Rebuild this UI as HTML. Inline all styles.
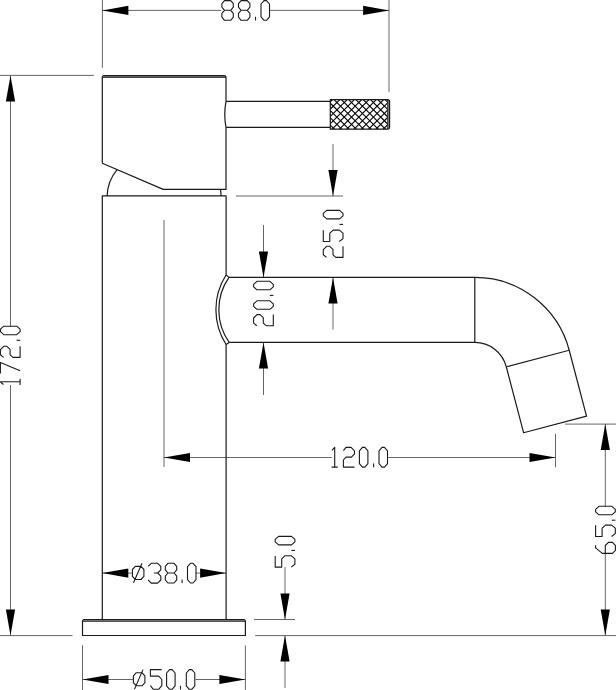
<!DOCTYPE html>
<html><head><meta charset="utf-8"><title>Tap drawing</title>
<style>html,body{margin:0;padding:0;background:#fff;width:616px;height:690px;overflow:hidden}svg{display:block}</style>
</head><body><svg width="616" height="690" viewBox="0 0 616 690">
<defs><clipPath id="kc"><rect x="330.3" y="99.6" width="57.4" height="29.6"/></clipPath></defs>
<rect width="616" height="690" fill="#fff"/>
<g stroke="#555" stroke-width="0.9" fill="none"><line x1="102.4" y1="0" x2="102.4" y2="67.7"/><line x1="389" y1="0" x2="389" y2="91.9"/><line x1="102.4" y1="10.4" x2="221.3" y2="10.4"/><line x1="270" y1="10.4" x2="389" y2="10.4"/><line x1="0" y1="75.4" x2="93.9" y2="75.4"/><line x1="0" y1="635.6" x2="72.5" y2="635.6"/><line x1="10.5" y1="75.4" x2="10.5" y2="326"/><line x1="10.5" y1="385" x2="10.5" y2="635.6"/><line x1="236" y1="196" x2="343" y2="196"/><line x1="333" y1="144" x2="333" y2="196"/><line x1="333" y1="277.4" x2="333" y2="329.5"/><line x1="263.5" y1="225" x2="263.5" y2="277.4"/><line x1="263.5" y1="342.45" x2="263.5" y2="395"/><line x1="164.0" y1="220" x2="164.0" y2="467"/><line x1="555.5" y1="433.8" x2="555.5" y2="467.3"/><line x1="164.0" y1="457.5" x2="331.7" y2="457.5"/><line x1="388.2" y1="457.5" x2="555.5" y2="457.5"/><line x1="565" y1="424.1" x2="616" y2="424.1"/><line x1="605.3" y1="424.1" x2="605.3" y2="506.3"/><line x1="605.3" y1="553.4" x2="605.3" y2="635.6"/><line x1="254" y1="619.5" x2="295" y2="619.5"/><line x1="255.2" y1="635.6" x2="616" y2="635.6"/><line x1="285" y1="567.1" x2="285" y2="619.5"/><line x1="285" y1="635.6" x2="285" y2="688"/><line x1="102.3" y1="573.1" x2="132.4" y2="573.1"/><line x1="196.0" y1="573.1" x2="226.1" y2="573.1"/><line x1="82.5" y1="645.2" x2="82.5" y2="690"/><line x1="245.4" y1="645.5" x2="245.4" y2="690"/><line x1="82.5" y1="679.5" x2="132.9" y2="679.5"/><line x1="195.6" y1="679.5" x2="245.4" y2="679.5"/></g>
<g fill="#000" stroke="none"><path d="M102.4,10.4 L128.40,5.80 L128.40,15.00 Z"/><path d="M389.1,10.4 L363.10,15.00 L363.10,5.80 Z"/><path d="M10.5,75.4 L15.10,101.40 L5.90,101.40 Z"/><path d="M10.5,635.6 L5.90,609.60 L15.10,609.60 Z"/><path d="M333,196 L328.40,170.00 L337.60,170.00 Z"/><path d="M333,277.4 L337.60,303.40 L328.40,303.40 Z"/><path d="M263.5,277.4 L258.90,251.40 L268.10,251.40 Z"/><path d="M263.5,342.45 L268.10,368.45 L258.90,368.45 Z"/><path d="M164.0,457.5 L190.00,452.90 L190.00,462.10 Z"/><path d="M555.5,457.5 L529.50,462.10 L529.50,452.90 Z"/><path d="M605.3,424.1 L609.90,450.10 L600.70,450.10 Z"/><path d="M605.3,635.6 L600.70,609.60 L609.90,609.60 Z"/><path d="M285,619.5 L280.40,593.50 L289.60,593.50 Z"/><path d="M285,635.6 L289.60,661.60 L280.40,661.60 Z"/><path d="M102.3,573.1 L128.30,568.50 L128.30,577.70 Z"/><path d="M226.1,573.1 L200.10,577.70 L200.10,568.50 Z"/><path d="M82.5,679.5 L108.50,674.90 L108.50,684.10 Z"/><path d="M245.4,679.5 L219.40,684.10 L219.40,674.90 Z"/></g>
<g clip-path="url(#kc)" stroke="#000" stroke-width="1.1"><line x1="226.5" y1="79.7" x2="296.20000000000005" y2="149.4"/><line x1="272.09999999999997" y1="79.7" x2="202.39999999999995" y2="149.4"/><line x1="233.8" y1="79.7" x2="303.5" y2="149.4"/><line x1="279.4" y1="79.7" x2="209.69999999999996" y2="149.4"/><line x1="241.10000000000002" y1="79.7" x2="310.8" y2="149.4"/><line x1="286.7" y1="79.7" x2="216.99999999999997" y2="149.4"/><line x1="248.39999999999998" y1="79.7" x2="318.1" y2="149.4"/><line x1="294.0" y1="79.7" x2="224.29999999999998" y2="149.4"/><line x1="255.7" y1="79.7" x2="325.4" y2="149.4"/><line x1="301.3" y1="79.7" x2="231.6" y2="149.4"/><line x1="263.0" y1="79.7" x2="332.70000000000005" y2="149.4"/><line x1="308.59999999999997" y1="79.7" x2="238.89999999999998" y2="149.4"/><line x1="270.3" y1="79.7" x2="340.0" y2="149.4"/><line x1="315.9" y1="79.7" x2="246.19999999999993" y2="149.4"/><line x1="277.6" y1="79.7" x2="347.3" y2="149.4"/><line x1="323.2" y1="79.7" x2="253.5" y2="149.4"/><line x1="284.90000000000003" y1="79.7" x2="354.6" y2="149.4"/><line x1="330.5" y1="79.7" x2="260.79999999999995" y2="149.4"/><line x1="292.2" y1="79.7" x2="361.9" y2="149.4"/><line x1="337.8" y1="79.7" x2="268.1" y2="149.4"/><line x1="299.5" y1="79.7" x2="369.20000000000005" y2="149.4"/><line x1="345.09999999999997" y1="79.7" x2="275.4" y2="149.4"/><line x1="306.8" y1="79.7" x2="376.5" y2="149.4"/><line x1="352.4" y1="79.7" x2="282.69999999999993" y2="149.4"/><line x1="314.1" y1="79.7" x2="383.8" y2="149.4"/><line x1="359.7" y1="79.7" x2="290.0" y2="149.4"/><line x1="321.40000000000003" y1="79.7" x2="391.1" y2="149.4"/><line x1="367.0" y1="79.7" x2="297.29999999999995" y2="149.4"/><line x1="328.7" y1="79.7" x2="398.4" y2="149.4"/><line x1="374.3" y1="79.7" x2="304.6" y2="149.4"/><line x1="336.0" y1="79.7" x2="405.70000000000005" y2="149.4"/><line x1="381.59999999999997" y1="79.7" x2="311.9" y2="149.4"/><line x1="343.3" y1="79.7" x2="413.0" y2="149.4"/><line x1="388.9" y1="79.7" x2="319.19999999999993" y2="149.4"/><line x1="350.59999999999997" y1="79.7" x2="420.29999999999995" y2="149.4"/><line x1="396.2" y1="79.7" x2="326.5" y2="149.4"/><line x1="357.9" y1="79.7" x2="427.6" y2="149.4"/><line x1="403.5" y1="79.7" x2="333.79999999999995" y2="149.4"/><line x1="365.2" y1="79.7" x2="434.9" y2="149.4"/><line x1="410.8" y1="79.7" x2="341.1" y2="149.4"/><line x1="372.5" y1="79.7" x2="442.20000000000005" y2="149.4"/><line x1="418.09999999999997" y1="79.7" x2="348.4" y2="149.4"/><line x1="379.8" y1="79.7" x2="449.5" y2="149.4"/><line x1="425.4" y1="79.7" x2="355.69999999999993" y2="149.4"/><line x1="387.09999999999997" y1="79.7" x2="456.79999999999995" y2="149.4"/><line x1="432.7" y1="79.7" x2="363.0" y2="149.4"/><line x1="394.4" y1="79.7" x2="464.1" y2="149.4"/><line x1="439.99999999999994" y1="79.7" x2="370.29999999999995" y2="149.4"/><line x1="401.7" y1="79.7" x2="471.4" y2="149.4"/><line x1="447.3" y1="79.7" x2="377.6" y2="149.4"/><line x1="409.0" y1="79.7" x2="478.70000000000005" y2="149.4"/><line x1="454.59999999999997" y1="79.7" x2="384.9" y2="149.4"/></g>
<g stroke="#888" stroke-width="1.6" fill="none"><path d="M103.5,76.5 L225,76.5"/><path d="M83.5,620.4 L244.4,620.4"/><path d="M388.65,100.6 L388.65,128.2"/></g>
<g stroke="#1a1a1a" stroke-width="1.2" fill="none" stroke-linejoin="round"><path d="M102.3,163.2 L102.3,77.6 Q102.3,75.6 104.3,75.6 L224,75.6 Q226,75.6 226,77.6 L226,101.3"/><path d="M226,127.4 L226,189.4 L163.2,189.4 L102.3,163.2"/><path d="M226,101.3 L330.3,101.3 M226,127.4 L330.3,127.4"/><path d="M226,101.3 Q223.5,114.35 226,127.4"/><path d="M330.3,99.6 L387.4,99.6 Q389.6,99.6 389.6,101.8 L389.6,127.0 Q389.6,129.2 387.4,129.2 L330.3,129.2 Z"/><path d="M107.12,195.9 A42.7,42.7 0 0 1 117.14,169.58"/><path d="M220.40,189.4 A42.7,42.7 0 0 1 221.08,195.9"/><path d="M102.3,619.5 L102.3,195.9 L226.1,195.9 L226.1,275 L229,277.4"/><path d="M229.2,342.45 L226.1,344.5 L226.1,619.5"/><path d="M226.05,275 A64.47,64.47 0 0 0 226.1,344.5"/><path d="M229,277.4 A56.64,56.64 0 0 0 229.2,342.45"/><path d="M229,277.4 L474.8,277.4 L474.8,342.45 L229.2,342.45"/><path d="M474.8,277.40 A97.6,97.6 0 0 1 569.21,350.23"/><path d="M474.8,342.45 A32.55,32.55 0 0 1 506.28,366.74"/><path d="M506.28,366.74 L569.21,350.23"/><path d="M506.28,366.74 L523.59,432.71 L586.51,416.20 L569.21,350.23"/><path d="M82.5,635.5 L82.5,621.5 Q82.5,619.5 84.5,619.5 L243.4,619.5 Q245.4,619.5 245.4,621.5 L245.4,635.5 Z"/></g>
<g stroke="#1a1a1a" stroke-width="0.9" fill="none"><path d="M102.3,77.4 L226,77.4"/><path d="M82.5,621.3 L245.4,621.3"/><path d="M387.7,99.6 L387.7,129.2"/></g>
<g stroke="#1a1a1a" stroke-width="1.1" fill="none" stroke-linejoin="round" stroke-linecap="butt"><path transform="translate(221.9,0.6)" d="M2.6,0 L8.8,0 L11.4,3.1 L11.4,6.6 L8.8,9.7 L2.6,9.7 L0,6.6 L0,3.1 Z M2.6,9.7 L0,12.8 L0,16.6 L2.6,19.7 L8.8,19.7 L11.4,16.6 L11.4,12.8 L8.8,9.7"/><path transform="translate(238.5,0.6)" d="M2.6,0 L8.8,0 L11.4,3.1 L11.4,6.6 L8.8,9.7 L2.6,9.7 L0,6.6 L0,3.1 Z M2.6,9.7 L0,12.8 L0,16.6 L2.6,19.7 L8.8,19.7 L11.4,16.6 L11.4,12.8 L8.8,9.7"/><path transform="translate(255.5,0.6)" d="M0,16.2 L0,19.8"/><path transform="translate(261.0,0.6)" d="M3,0 L5.5,0 L8.5,3.4 L8.5,16.3 L5.5,19.7 L3,19.7 L0,16.3 L0,3.4 Z"/><path transform="translate(331.5,447.4)" d="M0.5,3 L3.2,0 L3.2,19.7 M0.1,19.7 L6.3,19.7"/><path transform="translate(343.4,447.4)" d="M0,3.2 L2.6,0 L7.7,0 L11.1,3.4 L11.1,6.4 L8.1,9.7 L2.6,9.7 L0,12.6 L0,19.7 L11.1,19.7"/><path transform="translate(359.4,447.4)" d="M3,0 L5.5,0 L8.5,3.4 L8.5,16.3 L5.5,19.7 L3,19.7 L0,16.3 L0,3.4 Z"/><path transform="translate(373.6,447.4)" d="M0,16.2 L0,19.8"/><path transform="translate(379.0,447.4)" d="M3,0 L5.5,0 L8.5,3.4 L8.5,16.3 L5.5,19.7 L3,19.7 L0,16.3 L0,3.4 Z"/><path transform="translate(132.4,563.3)" d="M0,6.2 L2.9,3.1 L8.6,3.1 L11.5,6.2 L11.5,13.1 L8.6,16.2 L2.9,16.2 L0,13.1 Z M1.1,19.5 L9.6,0"/><path transform="translate(148.2,563.3)" d="M0,3 L3,0 L9.5,0 L12.6,3 L12.6,6.6 L9.5,9.7 L5.7,9.7 M9.5,9.7 L12.6,12.8 L12.6,16.7 L9.5,19.8 L3,19.8 L0,16.7"/><path transform="translate(165.3,563.3)" d="M2.6,0 L8.8,0 L11.4,3.1 L11.4,6.6 L8.8,9.7 L2.6,9.7 L0,6.6 L0,3.1 Z M2.6,9.7 L0,12.8 L0,16.6 L2.6,19.7 L8.8,19.7 L11.4,16.6 L11.4,12.8 L8.8,9.7"/><path transform="translate(182.1,563.3)" d="M0,16.2 L0,19.8"/><path transform="translate(187.5,563.3)" d="M3,0 L5.5,0 L8.5,3.4 L8.5,16.3 L5.5,19.7 L3,19.7 L0,16.3 L0,3.4 Z"/><path transform="translate(133.4,669.6)" d="M0,6.2 L2.9,3.1 L8.6,3.1 L11.5,6.2 L11.5,13.1 L8.6,16.2 L2.9,16.2 L0,13.1 Z M1.1,19.5 L9.6,0"/><path transform="translate(150.4,669.6)" d="M11.2,0 L0,0 L0,6.5 L8.3,6.5 L11.4,9.9 L11.4,16.0 L8.3,19.7 L2.9,19.7 L0,16.0"/><path transform="translate(166.6,669.6)" d="M3,0 L5.5,0 L8.5,3.4 L8.5,16.3 L5.5,19.7 L3,19.7 L0,16.3 L0,3.4 Z"/><path transform="translate(180.5,669.6)" d="M0,16.2 L0,19.8"/><path transform="translate(186.3,669.6)" d="M3,0 L5.5,0 L8.5,3.4 L8.5,16.3 L5.5,19.7 L3,19.7 L0,16.3 L0,3.4 Z"/><path transform="translate(323.3,257.4) rotate(-90)" d="M0,3.2 L2.6,0 L7.7,0 L11.1,3.4 L11.1,6.4 L8.1,9.7 L2.6,9.7 L0,12.6 L0,19.7 L11.1,19.7"/><path transform="translate(323.3,241.5) rotate(-90)" d="M11.2,0 L0,0 L0,6.5 L8.3,6.5 L11.4,9.9 L11.4,16.0 L8.3,19.7 L2.9,19.7 L0,16.0"/><path transform="translate(323.3,224.4) rotate(-90)" d="M0,16.2 L0,19.8"/><path transform="translate(323.3,218.9) rotate(-90)" d="M3,0 L5.5,0 L8.5,3.4 L8.5,16.3 L5.5,19.7 L3,19.7 L0,16.3 L0,3.4 Z"/><path transform="translate(253.6,325.7) rotate(-90)" d="M0,3.2 L2.6,0 L7.7,0 L11.1,3.4 L11.1,6.4 L8.1,9.7 L2.6,9.7 L0,12.6 L0,19.7 L11.1,19.7"/><path transform="translate(253.6,309.3) rotate(-90)" d="M3,0 L5.5,0 L8.5,3.4 L8.5,16.3 L5.5,19.7 L3,19.7 L0,16.3 L0,3.4 Z"/><path transform="translate(253.6,295.4) rotate(-90)" d="M0,16.2 L0,19.8"/><path transform="translate(253.6,289.8) rotate(-90)" d="M3,0 L5.5,0 L8.5,3.4 L8.5,16.3 L5.5,19.7 L3,19.7 L0,16.3 L0,3.4 Z"/><path transform="translate(0.4,385.0) rotate(-90)" d="M0.5,3 L3.2,0 L3.2,19.7 M0.1,19.7 L6.3,19.7"/><path transform="translate(0.4,373.5) rotate(-90)" d="M0,0 L11,0 L2.7,19.8"/><path transform="translate(0.4,357.4) rotate(-90)" d="M0,3.2 L2.6,0 L7.7,0 L11.1,3.4 L11.1,6.4 L8.1,9.7 L2.6,9.7 L0,12.6 L0,19.7 L11.1,19.7"/><path transform="translate(0.4,340.3) rotate(-90)" d="M0,16.2 L0,19.8"/><path transform="translate(0.4,334.7) rotate(-90)" d="M3,0 L5.5,0 L8.5,3.4 L8.5,16.3 L5.5,19.7 L3,19.7 L0,16.3 L0,3.4 Z"/><path transform="translate(595.6,553.4) rotate(-90)" d="M8.2,0 L5.5,0 L0,6.7 L0,16.8 L3,19.8 L8,19.8 L11,16.8 L11,12.8 L7.9,9.7 L0,9.7"/><path transform="translate(595.6,536.5) rotate(-90)" d="M11.2,0 L0,0 L0,6.5 L8.3,6.5 L11.4,9.9 L11.4,16.0 L8.3,19.7 L2.9,19.7 L0,16.0"/><path transform="translate(595.6,520.2) rotate(-90)" d="M0,16.2 L0,19.8"/><path transform="translate(595.6,514.8) rotate(-90)" d="M3,0 L5.5,0 L8.5,3.4 L8.5,16.3 L5.5,19.7 L3,19.7 L0,16.3 L0,3.4 Z"/><path transform="translate(275.2,567.1) rotate(-90)" d="M11.2,0 L0,0 L0,6.5 L8.3,6.5 L11.4,9.9 L11.4,16.0 L8.3,19.7 L2.9,19.7 L0,16.0"/><path transform="translate(275.2,550.4) rotate(-90)" d="M0,16.2 L0,19.8"/><path transform="translate(275.2,544.9) rotate(-90)" d="M3,0 L5.5,0 L8.5,3.4 L8.5,16.3 L5.5,19.7 L3,19.7 L0,16.3 L0,3.4 Z"/></g>
</svg></body></html>
